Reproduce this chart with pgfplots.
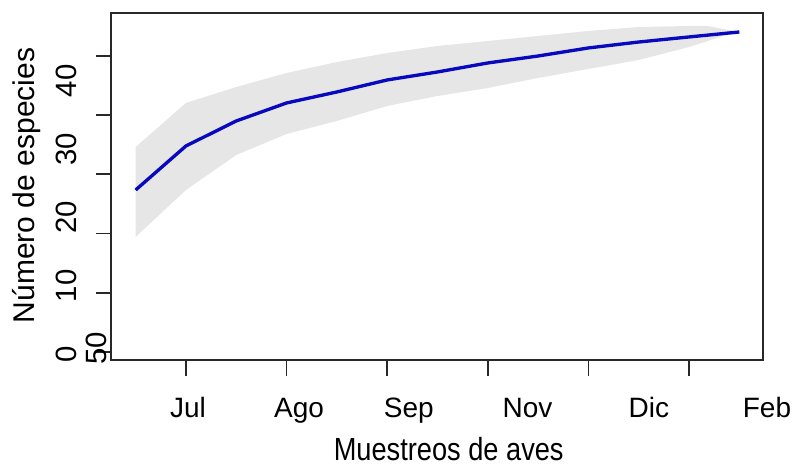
\documentclass[border=0pt]{standalone}
\usepackage{pgfplots}
\pgfplotsset{compat=1.18}
\usepgfplotslibrary{fillbetween}
\usepackage{fontspec}
\setmainfont{Liberation Sans}

\definecolor{curveblue}{RGB}{8,8,190}
\definecolor{bandgray}{RGB}{230,230,230}
\definecolor{framegray}{RGB}{40,40,40}

\begin{document}
\begin{tikzpicture}
\begin{axis}[
  scale only axis,
  width=489pt, height=260.25pt,
  xmin=0.51, xmax=13.47,
  ymin=-0.88, ymax=49.96,
  axis line style={line width=1.4pt, framegray},
  tick pos=left,
  major tick length=0pt,
  % month names under the time axis
  xtick={2.04,4.25,6.43,8.79,11.20},
  xticklabels={Jul,Ago,Sep,Nov,Dic},
  xticklabel style={font=\fontsize{21}{24}\selectfont, anchor=base, yshift=-42.75pt},
  % species counts along the vertical axis
  ytick={0,10,20,30,40},
  yticklabels={0,10,20,30,40},
  yticklabel style={font=\fontsize{22}{26}\selectfont, rotate=90, anchor=base, yshift=25.5pt},
  % tick marks of the sampling grid
  extra x ticks={2,4,6,8,10,12},
  extra x tick labels={,,,,,},
  extra x tick style={major tick length=12pt, tick align=outside,
    tick style={line width=1.2pt, framegray}},
  extra y ticks={0.29,8.94,17.65,26.37,35.02,43.66},
  extra y tick labels={50,,,,,},
  extra y tick style={major tick length=11pt, tick align=outside,
    tick style={line width=1.2pt, framegray},
    yticklabel style={yshift=-33pt, xshift=3pt}},
  xlabel={Muestreos de aves},
  xlabel style={font=\fontsize{24}{28}\selectfont, xscale=0.85, text depth=0pt,
    at={(axis description cs:0.518,-0.289)}, anchor=base},
  ylabel={Número de especies},
  ylabel style={font=\fontsize{22.5}{26}\selectfont,
    at={(axis description cs:-0.1166,0.503)}, anchor=base},
  clip=false,
]
% confidence band of the accumulation curve
\addplot[name path=upper, draw=none] coordinates {
  (1,30.33) (2,36.78) (3,39.12) (4,41.17) (5,42.78) (6,44.10) (7,45.13)
  (8,45.86) (9,46.59) (10,47.33) (11,47.91) (12,48.06) (12.36,48.06) (13,47.18)};
\addplot[name path=lower, draw=none] coordinates {
  (1,17.14) (2,24.03) (3,29.16) (4,32.23) (5,34.14) (6,36.34) (7,37.80)
  (8,38.97) (9,40.44) (10,41.76) (11,43.08) (12,44.98) (12.62,46.45) (13,47.18)};
\addplot[bandgray] fill between[of=upper and lower];
% mean species accumulation
\addplot[curveblue, line width=2.5pt] coordinates {
  (1,24.03) (2,30.48) (3,34.14) (4,36.78) (5,38.39) (6,40.15) (7,41.32)
  (8,42.64) (9,43.66) (10,44.84) (11,45.71) (12,46.45) (13,47.18)};
\end{axis}
\node[font=\fontsize{21}{24}\selectfont, anchor=base]
  at ([xshift=3pt, yshift=-42.75pt]current axis.south east) {Feb};
\pgfresetboundingbox
\path[use as bounding box]
  ([xshift=-83.25pt, yshift=-78.75pt]current axis.south west)
  rectangle ([xshift=25.5pt, yshift=9.75pt]current axis.north east);
\end{tikzpicture}
\end{document}
